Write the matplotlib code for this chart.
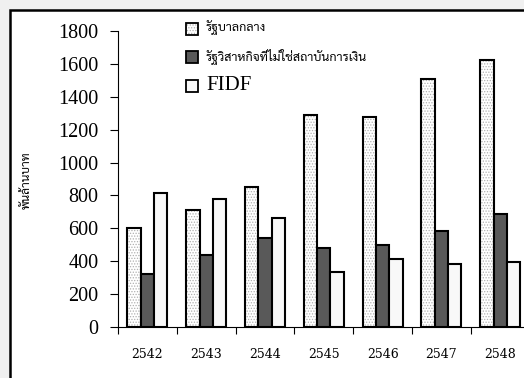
import matplotlib
matplotlib.use('Agg')
import matplotlib.pyplot as plt
import numpy as np
from matplotlib.patches import Rectangle

# ปีงบประมาณ และยอดหนี้ (พันล้านบาท)
years = ['2542', '2543', '2544', '2545', '2546', '2547', '2548']
central_gov = [600, 712, 850, 1291, 1279, 1508, 1624]
state_ent = [325, 438, 539, 482, 497, 586, 687]
fidf = [813, 779, 665, 336, 414, 381, 393]
labels = ['รัฐบาลกลาง', 'รัฐวิสาหกิจที่ไม่ใช่สถาบันการเงิน', 'FIDF']

thai = ['Sarabun', 'DejaVu Sans']
serif = ['Liberation Serif', 'DejaVu Serif']
plt.rcParams['hatch.linewidth'] = 0.6
dot_col = '#b0b0b0'

W, H = 524, 378
fig = plt.figure(figsize=(W / 100, H / 100), dpi=100, facecolor='#f0f0f0')

# white panel with black frame (runs off the right/bottom edge)
fig.patches.append(Rectangle((10 / W, -0.2), 1.2, (H - 10) / H + 0.2,
                             transform=fig.transFigure, facecolor='white',
                             edgecolor='black', linewidth=1.8, zorder=-1))

ax = fig.add_axes([118 / W, 1 - 327 / H, (529.6 - 118) / W, (327 - 31) / H])
ax.set_facecolor('none')

x = np.arange(len(years))
w = 0.227
# hatched fill for central government, then outline on top
ax.bar(x - w, central_gov, w, color='white', edgecolor=dot_col, hatch='......', linewidth=0, zorder=2)
ax.bar(x - w, central_gov, w, color='none', edgecolor='black', linewidth=1.5, zorder=3)
ax.bar(x, state_ent, w, color='#595959', edgecolor='black', linewidth=1.5, zorder=3)
ax.bar(x + w, fidf, w, color='#f8f8f8', edgecolor='black', linewidth=1.5, zorder=3)

ax.set_xlim(-0.5, 6.5)
ax.set_ylim(0, 1800)
ax.set_yticks(range(0, 1801, 200))
ax.set_yticklabels([str(v) for v in range(0, 1801, 200)], family=serif, fontsize=14.5)
ax.tick_params(axis='y', direction='out', length=6, width=0.8, pad=8)

ax.set_xticks(x)
ax.set_xticklabels(years, family='DejaVu Serif', fontsize=9)
ax.set_xticks(np.arange(-0.5, 6.0, 1), minor=True)
ax.tick_params(axis='x', which='major', length=0, pad=15)
ax.tick_params(axis='x', which='minor', direction='out', length=5, width=0.8)

for s in ['top', 'right']:
    ax.spines[s].set_visible(False)
for s in ['left', 'bottom']:
    ax.spines[s].set_linewidth(0.8)

fig.text(27 / W, 1 - 180 / H, 'พันล้านบาท', rotation=90, family=thai, fontsize=8.5,
         ha='center', va='center')

# legend drawn by hand
leg_y = [28, 56, 85]
leg_face = ['white', '#595959', '#f8f8f8']
for i, (lab, fc) in enumerate(zip(labels, leg_face)):
    y0 = 1 - (leg_y[i] + 6.5) / H
    if i == 0:
        fig.patches.append(Rectangle((186 / W, y0), 12 / W, 12 / H, transform=fig.transFigure,
                                     facecolor='white', edgecolor=dot_col, linewidth=0,
                                     hatch='......', zorder=4))
    fig.patches.append(Rectangle((186 / W, y0), 12 / W, 12 / H, transform=fig.transFigure,
                                 facecolor='none' if i == 0 else fc, edgecolor='black',
                                 linewidth=1.3, zorder=5))
    if i < 2:
        fig.text(206 / W, 1 - leg_y[i] / H, lab, family=thai, fontsize=9, va='center')
    else:
        fig.text(206 / W, 1 - leg_y[i] / H, lab, family=serif, fontsize=15, va='center')

fig.savefig('out.png', dpi=100, facecolor=fig.get_facecolor())
